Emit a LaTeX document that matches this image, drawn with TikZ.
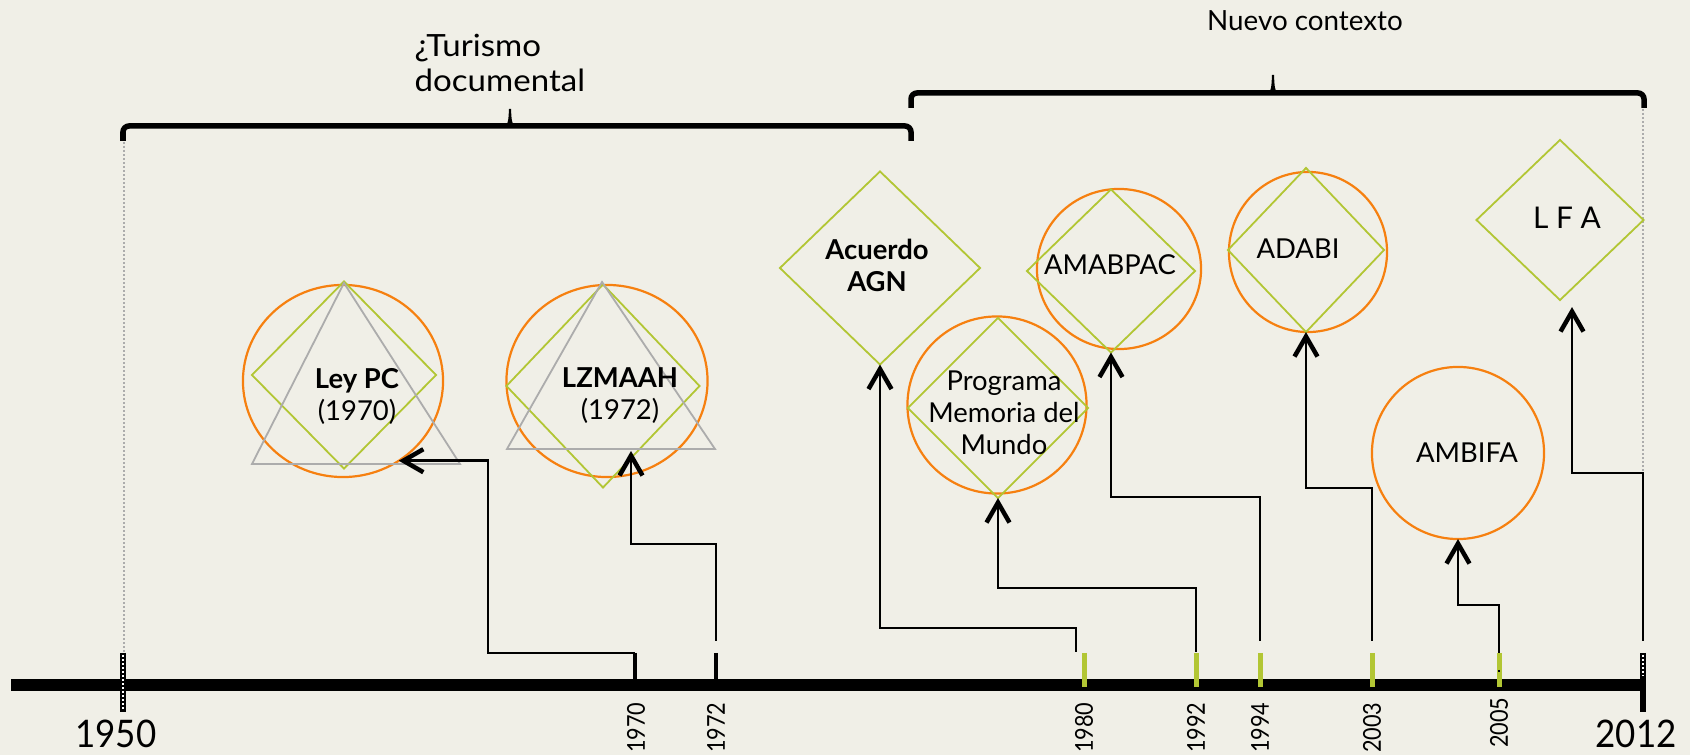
\documentclass[tikz,border=0pt]{standalone}
\usepackage{fontspec}
\setmainfont{Lato}
\newfontfamily\yearfont[FakeStretch=0.88]{Lato}
\newfontfamily\bigyearfont[FakeStretch=0.92]{Lato}
\newfontfamily\widefont[FakeStretch=1.08]{Lato}
\usepackage{tikz}
\usetikzlibrary{arrows.meta,shapes.geometric}

\definecolor{paper}{RGB}{240,239,231}
\definecolor{limeline}{RGB}{178,198,52}
\definecolor{orangeline}{RGB}{246,128,16}
\definecolor{greyline}{RGB}{172,172,172}

\begin{document}
\begin{tikzpicture}[
                    x=0.01cm, y=-0.01cm,
                    >={Straight Barb[length=2mm,width=2.3mm,line width=0.45mm]},
                    axis/.style = {line width=1.2mm},
                    conn/.style = {->, line width=0.27mm},
                    blacktick/.style = {line width=0.45mm},
                    greentick/.style = {draw=limeline, line width=0.5mm},
                    endtick/.style = {line width=0.55mm},
                    dots/.style = {white, line width=0.22mm, dash pattern=on 0.2mm off 0.2mm},
                    guide/.style = {draw=greyline, line width=0.22mm, dash pattern=on 0.2mm off 0.2mm},
                    bracket/.style = {line width=0.55mm, rounded corners=0.6mm},
                    rhomb/.style = {diamond, draw=limeline, line width=0.18mm, inner sep=0pt, outer sep=0pt},
                    ring/.style = {ellipse, draw=orangeline, line width=0.22mm, inner sep=0pt, outer sep=0pt},
                    tri/.style = {draw=greyline, line width=0.18mm},
                    lbl/.style = {align=center, inner sep=0pt, font=\fontsize{7.8pt}{9.1pt}\selectfont},
                    head/.style = {align=left, inner sep=0pt, font=\widefont\fontsize{8.7pt}{10pt}\selectfont},
                    year/.style = {rotate=90, anchor=east, inner sep=0pt, font=\yearfont\fontsize{7pt}{7pt}\selectfont},
                    bigyear/.style = {inner sep=0pt, font=\bigyearfont\fontsize{10.8pt}{12pt}\selectfont}
                    ]

\useasboundingbox (0,0) rectangle (1690,755);
\fill[paper] (0,0) rectangle (1690,755);

\draw[guide] (124,142) -- (124,652);
\draw[guide] (1643,109) -- (1643,640);

\draw[bracket] (123,141) |- (911,126) -- (911,141);
\fill (505,127) .. controls (508.5,124) and (508.5,118) .. (509,109) -- (511,109) .. controls (511.5,118) and (511.5,124) .. (515,127) -- cycle;
\draw[bracket] (911,108) |- (1644,93) -- (1644,108);
\fill (1268,94) .. controls (1271.5,91) and (1271.5,85) .. (1272,75) -- (1274,75) .. controls (1274.5,85) and (1274.5,91) .. (1278,94) -- cycle;

\node[head] (tur) at (414,63) [anchor=west] {¿Turismo\\documental};
\node[head, font=\fontsize{7.9pt}{10pt}\selectfont] (nuevo) at (1305,21) {Nuevo contexto};

\node[ring, minimum width=20mm, minimum height=19.2mm] (leyC) at (343,381) {};
\node[rhomb, minimum width=18.4mm, minimum height=18.7mm] (leyD) at (344,375) {};
\draw[tri] (344,283) -- (252,464) -- (460,464) -- cycle;

\node[ring, minimum width=20.1mm, minimum height=19.2mm] (lzC) at (607,381) {};
\node[rhomb, minimum width=19.3mm, minimum height=20.3mm] (lzD) at (603,386) {};
\draw[tri] (602,282) -- (507,449) -- (715,449) -- cycle;
\coordinate (lzT) at (631,451);

\node[rhomb, minimum width=20mm, minimum height=19.3mm] (agnD) at (880,268) {};

\node[ring, minimum width=17.9mm, minimum height=17.7mm] (mmC) at (997,405) {};
\node[rhomb, minimum width=18mm, minimum height=18mm] (mmD) at (998,408) {};

\node[ring, minimum width=16.4mm, minimum height=16mm] (amC) at (1119,269) {};
\node[rhomb, minimum width=16.8mm, minimum height=16.3mm] (amD) at (1111,271) {};

\node[ring, minimum width=15.8mm, minimum height=16mm] (adC) at (1308,252) {};
\node[rhomb, minimum width=15.6mm, minimum height=16.4mm] (adD) at (1306,250) {};

\node[rhomb, minimum width=16.7mm, minimum height=16mm] (lfaD) at (1560,220) {};

\node[ring, minimum width=17.2mm, minimum height=17.2mm] (ambC) at (1458,453) {};

\node[lbl] (ley) at (357,396) {\textbf{Ley PC}\\(1970)};
\node[lbl] (lz) at (620,396) {\textbf{LZMAAH}\\(1972)};
\node[lbl] (agn) at (877,265) {\textbf{Acuerdo}\\\textbf{AGN}};
\node[lbl] (mm) at (1004,413) {Programa\\Memoria del\\Mundo};
\node[lbl] (am) at (1110,265) {AMABPAC};
\node[lbl] (ad) at (1298,249) {ADABI};
\node[lbl, font=\fontsize{8.5pt}{9pt}\selectfont] (lfa) at (1567,218) {L F A};
\node[lbl] (amb) at (1467,453) {AMBIFA};

\coordinate (s70) at (635,653);
\coordinate (s72) at (716,641);
\coordinate (s80) at (1076,652);
\coordinate (s92) at (1196,652);
\coordinate (s94) at (1260,641);
\coordinate (s03) at (1372,641);
\coordinate (s05) at (1499,670);
\coordinate (s12) at (1643,641);

\draw[conn] (s70) -- ++(-147,0) |- (leyC.-55.5);
\draw[conn] (s72) -- ++(0,-97) -| (lzT);
\draw[conn] (s80) -- ++(0,-24) -| (agnD.south);
\draw[conn] (s92) -- ++(0,-64) -| (mmD.south);
\draw[conn] (s94) -- ++(0,-144) -| (amD.south);
\draw[conn] (s03) -- ++(0,-153) -| (adD.south);
\draw[conn] (s05) -- ++(0,-65) -| (ambC.south);
\draw[conn] (s12) -- ++(0,-168) -| ([xshift=1.2mm,yshift=-0.7mm]lfaD.south);

\draw[axis] (11,685) -- (1644,685);

\draw[endtick] (123,653) -- (123,712);
\draw[dots] (123,655) -- (123,711);
\draw[endtick] (1643,653) -- (1643,712);
\draw[dots] (1643,655) -- (1643,676);
\draw[blacktick] (635,653) -- (635,685);
\draw[blacktick] (716,653) -- (716,685);
\foreach \x in {1084,1196,1260,1372,1499}
  \draw[greentick] (\x,653) -- (\x,687);
\draw[line width=0.27mm] (s05) -- ++(0,2);

\node[bigyear] (y1950) at (116,734) {1950};
\node[bigyear] (y2012) at (1636,734) {2012};
\node[year] (y1970) at (636,702) {1970};
\node[year] (y1972) at (716,702) {1972};
\node[year] (y1980) at (1084,702) {1980};
\node[year] (y1992) at (1196,702) {1992};
\node[year] (y1994) at (1260,702) {1994};
\node[year] (y2003) at (1372,702) {2003};
\node[year] (y2005) at (1499,697) {2005};
\end{tikzpicture}
\end{document}
